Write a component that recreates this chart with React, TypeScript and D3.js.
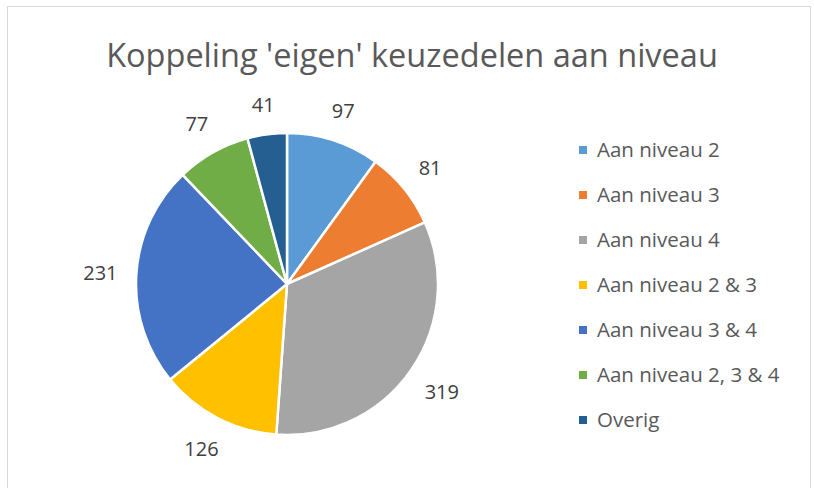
import React from "react";
import { pie, arc, scaleOrdinal } from "d3";

const categories = [
  "Aan niveau 2",
  "Aan niveau 3",
  "Aan niveau 4",
  "Aan niveau 2 & 3",
  "Aan niveau 3 & 4",
  "Aan niveau 2, 3 & 4",
  "Overig",
];
const values = [97, 81, 319, 126, 231, 77, 41];
const colors = ["#5B9BD5", "#ED7D31", "#A5A5A5", "#FFC000", "#4472C4", "#70AD47", "#255E91"];

const width = 814;
const height = 488;

const App = () => {
  const cx = 287;
  const cy = 284;
  const radius = 151;

  const color = scaleOrdinal<string, string>().domain(categories).range(colors);

  const slices = pie<number>().sort(null)(values);
  const arcGen = arc<any>().innerRadius(0).outerRadius(radius);

  const fontFamily = "'Open Sans', sans-serif";
  const labelSize = 20;

  // outside-end labels: push the label box just beyond the rim
  const labelPos = (d: any) => {
    const a = (d.startAngle + d.endAngle) / 2;
    const ux = Math.sin(a);
    const uy = -Math.cos(a);
    const hw = String(d.data).length * labelSize * 0.29;
    const hh = labelSize * 0.5;
    const dist = radius + 18 + hw * Math.abs(ux) + hh * Math.abs(uy);
    return [ux * dist, uy * dist];
  };

  return (
    <svg width={width} height={height} style={{ position: "absolute", left: 0, top: 0 }}>
      <rect x={0} y={0} width={width} height={height} fill="#fff" />
      <rect x={7.5} y={6.5} width={803} height={490} fill="#fff" stroke="#d9d9d9" strokeWidth={1} />
      <text
        x={412}
        y={67}
        textAnchor="middle"
        fontFamily={fontFamily}
        fontSize={32.5}
        fill="#595959"
      >
        Koppeling 'eigen' keuzedelen aan niveau
      </text>
      <g transform={`translate(${cx},${cy})`}>
        {slices.map((d, i) => (
          <path
            key={i}
            d={arcGen(d) as string}
            fill={color(categories[i])}
            stroke="#fff"
            strokeWidth={2.5}
            strokeLinejoin="round"
          />
        ))}
        {slices.map((d, i) => {
          const [x, y] = labelPos(d);
          return (
            <text
              key={i}
              x={x}
              y={y}
              dy="0.35em"
              textAnchor="middle"
              fontFamily={fontFamily}
              fontSize={labelSize}
              fill="#404040"
            >
              {d.data}
            </text>
          );
        })}
      </g>
      <g transform="translate(579,150)">
        {categories.map((c, i) => (
          <g key={c} transform={`translate(0,${i * 45})`}>
            <rect x={0} y={-4} width={8} height={8} fill={color(c)} />
            <text
              x={18}
              y={0}
              dy="0.35em"
              fontFamily={fontFamily}
              fontSize={20.5}
              fill="#595959"
            >
              {c}
            </text>
          </g>
        ))}
      </g>
    </svg>
  );
};

export default App;
